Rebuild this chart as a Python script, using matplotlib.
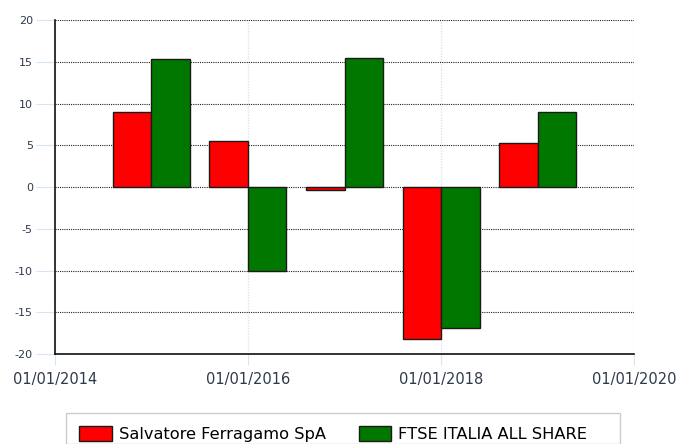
import datetime as dt
import matplotlib
matplotlib.use("Agg")
import matplotlib.pyplot as plt
import matplotlib.dates as mdates
from matplotlib.patches import Rectangle

# data
years = [2015, 2016, 2017, 2018, 2019]
ferragamo = [9.0, 5.5, -0.35, -18.2, 5.3]
ftse = [15.3, -10.0, 15.45, -16.9, 9.0]
names = ["Salvatore Ferragamo SpA", "FTSE ITALIA ALL SHARE"]
xticks = [dt.date(y, 1, 1) for y in (2014, 2016, 2018, 2020)]

plt.rcParams['font.family'] = ['DejaVu Sans']
plt.rcParams['axes.unicode_minus'] = False

fig = plt.figure(figsize=(6.78, 4.44), dpi=100)
ax = fig.add_axes([55/678, 1-354/444, (634-55)/678, (354-20)/444])

centers = mdates.date2num([dt.date(y, 1, 1) for y in years])
w = 146  # days
ax.bar(centers - w/2, ferragamo, width=w, color="#ff0000", edgecolor="#1a1a1a", lw=1, zorder=3, label=names[0])
ax.bar(centers + w/2, ftse, width=w, color="#007800", edgecolor="#1a1a1a", lw=1, zorder=3, label=names[1])

ax.set_ylim(-20, 20)
ax.set_yticks(range(-20, 21, 5))
ax.set_xlim(mdates.date2num(xticks[0]), mdates.date2num(xticks[-1]))
ax.set_xticks(mdates.date2num(xticks))
ax.xaxis.set_major_formatter(mdates.DateFormatter("%d/%m/%Y"))

ax.yaxis.grid(True, color="#222222", ls=(0, (1, 1)), lw=0.8, zorder=1)
ax.xaxis.grid(True, color="#d6e4f5", ls=(0, (1, 1)), lw=1, zorder=1)
for s in ("top", "right"):
    ax.spines[s].set_visible(False)
for s in ("left", "bottom"):
    ax.spines[s].set_color("#111111")
    ax.spines[s].set_linewidth(1.2)
    ax.spines[s].set_zorder(4)

ax.tick_params(axis="y", length=14, color="#d6e4f5", labelsize=8, labelcolor="#2e3a4a", pad=2)
ax.tick_params(axis="x", length=8, color="#d6e4f5", labelsize=10.5, labelcolor="#2e3a4a", pad=5)

# legend box at the bottom
fig.patches.append(Rectangle((66/678, 0), (620-66)/678, (444-413)/444, transform=fig.transFigure,
                             fill=False, edgecolor="#cccccc", lw=1))
fig.legend(loc="upper left", bbox_to_anchor=(68/678, 1-415/444), ncol=2, frameon=False,
           fontsize=11.7, handlelength=2.0, handleheight=1.0, handletextpad=0.45,
           columnspacing=2.0, borderpad=0.2)

fig.savefig("out.png", dpi=100)
